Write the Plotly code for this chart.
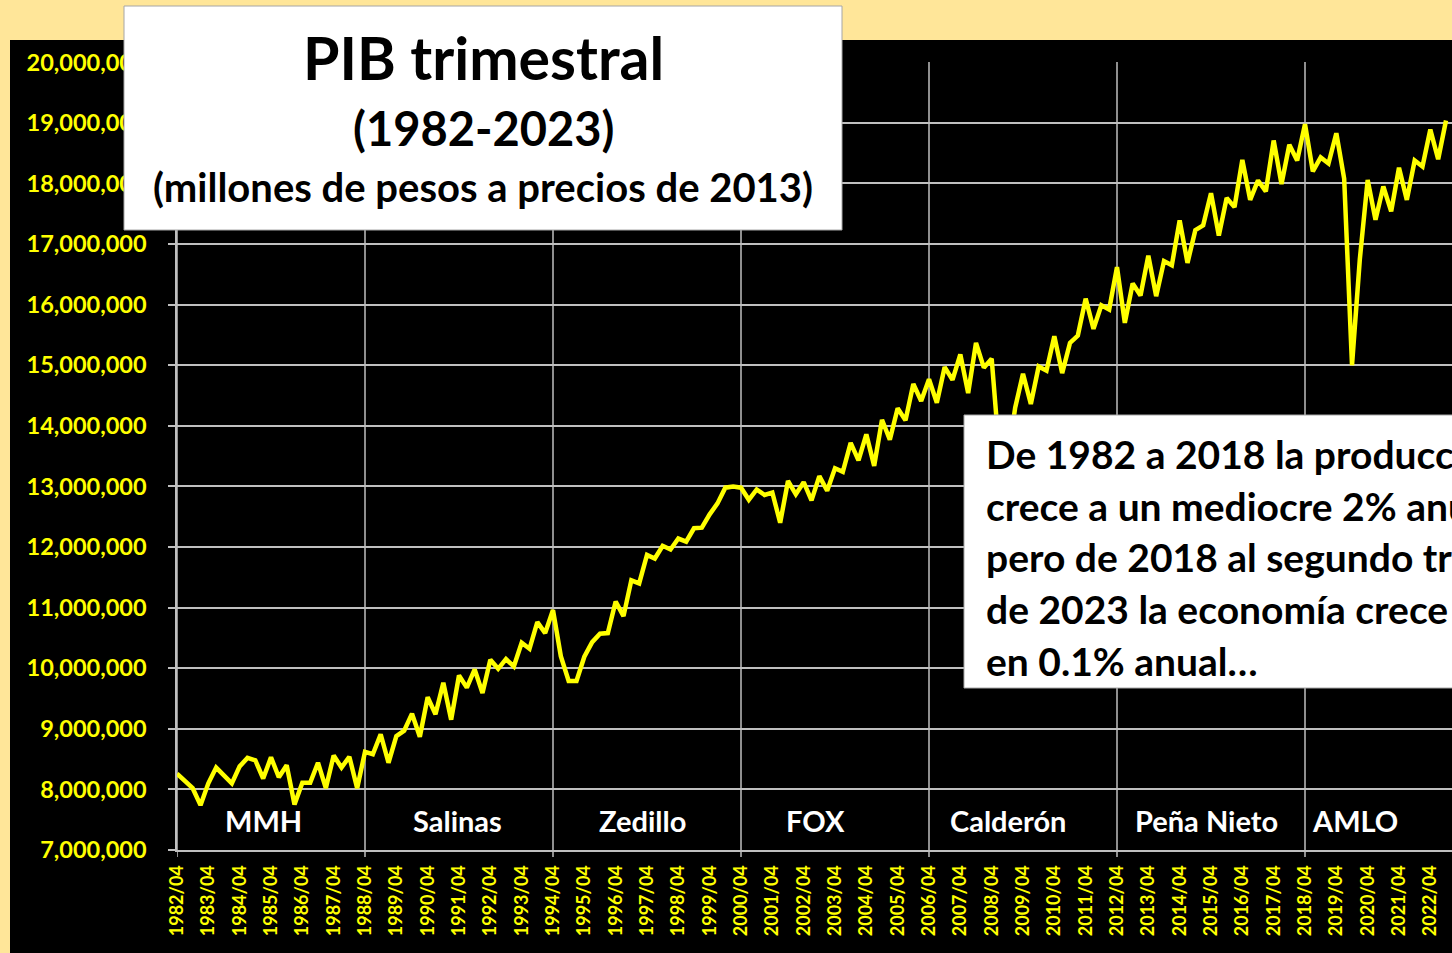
import plotly.graph_objects as go

# ---------------- data ----------------
# Quarterly GDP, 1982/04 .. 2023/02, in millions of millions of pesos (x 1e6 = millones de pesos)
pib_millones = [
    8.26, 8.13, 8.02, 7.74, 8.10, 8.36, 8.24, 8.10, 8.38, 8.52, 8.48, 8.18, 8.53, 8.20, 8.40, 7.75,
    8.11, 8.11, 8.44, 8.02, 8.56, 8.36, 8.54, 8.02, 8.62,
    8.58, 8.91, 8.44, 8.88, 8.97, 9.25, 8.87, 9.52, 9.24, 9.76, 9.15, 9.88, 9.68, 9.98, 9.59,
    10.14, 9.99, 10.15, 10.03, 10.42, 10.32, 10.76, 10.58, 10.96, 10.20,
    9.79, 9.79, 10.19, 10.43, 10.57, 10.58, 11.10, 10.86, 11.45, 11.40, 11.87, 11.81, 12.02, 11.96,
    12.14, 12.09, 12.31, 12.32, 12.54, 12.72, 12.98, 13.00, 12.98,
    12.78, 12.95, 12.86, 12.90, 12.40, 13.09, 12.87, 13.07, 12.77, 13.17, 12.93, 13.30, 13.24, 13.72,
    13.43, 13.86, 13.34, 14.10, 13.77, 14.29, 14.09, 14.69, 14.41, 14.77,
    14.38, 14.97, 14.76, 15.18, 14.54, 15.37, 14.96, 15.11, 13.50, 13.40, 14.30, 14.86, 14.36, 14.98,
    14.91, 15.48, 14.87, 15.37, 15.49, 16.10, 15.60, 15.99, 15.92, 16.62,
    15.70, 16.35, 16.15, 16.81, 16.14, 16.72, 16.65, 17.39, 16.69, 17.23, 17.31, 17.84, 17.14, 17.76,
    17.61, 18.39, 17.73, 18.05, 17.87, 18.71, 17.99, 18.64, 18.38, 18.98,
    18.20, 18.43, 18.33, 18.83, 18.08, 15.00, 16.75, 18.06, 17.40, 17.95, 17.54, 18.26, 17.73, 18.38,
    18.28, 18.89, 18.40, 19.04,
]

tick_labels = [
    "1982/04", "1983/04", "1984/04", "1985/04", "1986/04", "1987/04", "1988/04", "1989/04",
    "1990/04", "1991/04", "1992/04", "1993/04", "1994/04", "1995/04", "1996/04", "1997/04",
    "1998/04", "1999/04", "2000/04", "2001/04", "2002/04", "2003/04", "2004/04", "2005/04",
    "2006/04", "2007/04", "2008/04", "2009/04", "2010/04", "2011/04", "2012/04", "2013/04",
    "2014/04", "2015/04", "2016/04", "2017/04", "2018/04", "2019/04", "2020/04", "2021/04",
    "2022/04",
]
quarters_per_label = 4

term_start_idx = [0, 24, 48, 72, 96, 120, 144]
presidents = ["MMH", "Salinas", "Zedillo", "FOX", "Calderón", "Peña Nieto", "AMLO"]
president_x = [11.1, 35.8, 59.4, 81.5, 106.1, 131.4, 150.4]
president_y = 7.48e6

title_lines = ["PIB trimestral", "(1982-2023)", "(millones de pesos a precios de 2013)"]
note_lines = [
    "De 1982 a 2018 la producción",
    "crece a un mediocre 2% anual,",
    "pero de 2018 al segundo trimestre",
    "de 2023 la economía crece",
    "en 0.1% anual…",
]

# ---------------- layout helpers ----------------
W, H = 1452, 953
ML, MR, MT, MB = 177, 0, 62, 103
PW, PH = W - ML - MR, H - MT - MB


def px(xp):
    return (xp - ML) / PW


def py(yp):
    return (H - MB - yp) / PH


YELLOW = "#FFFF00"
GRID = "#BFBFBF"
FONT = "Lato"

n = len(pib_millones)
xs = list(range(n))
ys = [v * 1e6 for v in pib_millones]
tickvals = [i * quarters_per_label for i in range(len(tick_labels))]
x_range = [0, PW / (188 / 24)]

fig = go.Figure()
fig.add_trace(go.Scatter(
    x=xs, y=ys, mode="lines",
    line=dict(color=YELLOW, width=4.5),
    hoverinfo="skip", showlegend=False,
))

shapes = [
    dict(type="rect", xref="paper", yref="paper",
         x0=px(10), x1=px(1470), y0=py(970), y1=py(40),
         fillcolor="black", line=dict(width=0), layer="below"),
]
# vertical dividers at the start of each presidential term
for idx in term_start_idx:
    shapes.append(dict(type="line", xref="x", yref="paper",
                       x0=idx, x1=idx, y0=py(857), y1=1,
                       line=dict(color=GRID, width=1.5), layer="below"))
shapes += [
    dict(type="rect", xref="paper", yref="paper",
         x0=px(124), x1=px(842), y0=py(230), y1=py(6),
         fillcolor="white", line=dict(color="#A6A6A6", width=1), layer="above"),
    dict(type="rect", xref="paper", yref="paper",
         x0=px(964), x1=px(1480), y0=py(688), y1=py(415),
         fillcolor="white", line=dict(color="#A6A6A6", width=1), layer="above"),
]

annotations = []
title_sizes = [59, 47, 40]
title_y = [57, 128, 187]
for txt, sz, yy in zip(title_lines, title_sizes, title_y):
    annotations.append(dict(
        text=txt, xref="paper", yref="paper", x=px(483), y=py(yy),
        xanchor="center", yanchor="middle", showarrow=False,
        font=dict(family=FONT, size=sz, color="black", weight="bold"),
    ))

note_y = [454, 506, 557, 609, 661]
for txt, yy in zip(note_lines, note_y):
    annotations.append(dict(
        text=txt, xref="paper", yref="paper", x=px(984), y=py(yy),
        xanchor="left", yanchor="middle", showarrow=False,
        font=dict(family=FONT, size=39, color="black", weight="bold"),
    ))

for name, xp in zip(presidents, president_x):
    annotations.append(dict(
        text=name, xref="x", yref="y", x=xp, y=president_y,
        xanchor="center", yanchor="middle", showarrow=False,
        font=dict(family=FONT, size=29, color="white", weight="bold"),
    ))

fig.update_layout(
    width=W, height=H,
    margin=dict(l=ML, r=MR, t=MT, b=MB, pad=0),
    paper_bgcolor="#FFE699",
    plot_bgcolor="black",
    showlegend=False,
    shapes=shapes,
    annotations=annotations,
    xaxis=dict(
        range=x_range, tickmode="array", tickvals=tickvals, ticktext=tick_labels,
        tickangle=-90, ticks="", showgrid=False, zeroline=False,
        showline=True, linecolor=GRID, linewidth=2,
        tickfont=dict(family=FONT, size=18, color=YELLOW, weight="bold"),
        ticklabelstandoff=6,
    ),
    yaxis=dict(
        range=[7e6, 20.005e6], tick0=0, dtick=1e6, tickformat=",.0f",
        showgrid=True, gridcolor=GRID, gridwidth=1.5, zeroline=False,
        ticks="outside", ticklen=7, tickcolor=GRID, tickwidth=1.5,
        showline=True, linecolor=GRID, linewidth=1.5,
        tickfont=dict(family=FONT, size=23.5, color=YELLOW, weight="bold"),
        ticklabelstandoff=17,
    ),
)

fig.write_html("out.html", config={"displayModeBar": False},
               post_script="document.body.style.margin='0';")
